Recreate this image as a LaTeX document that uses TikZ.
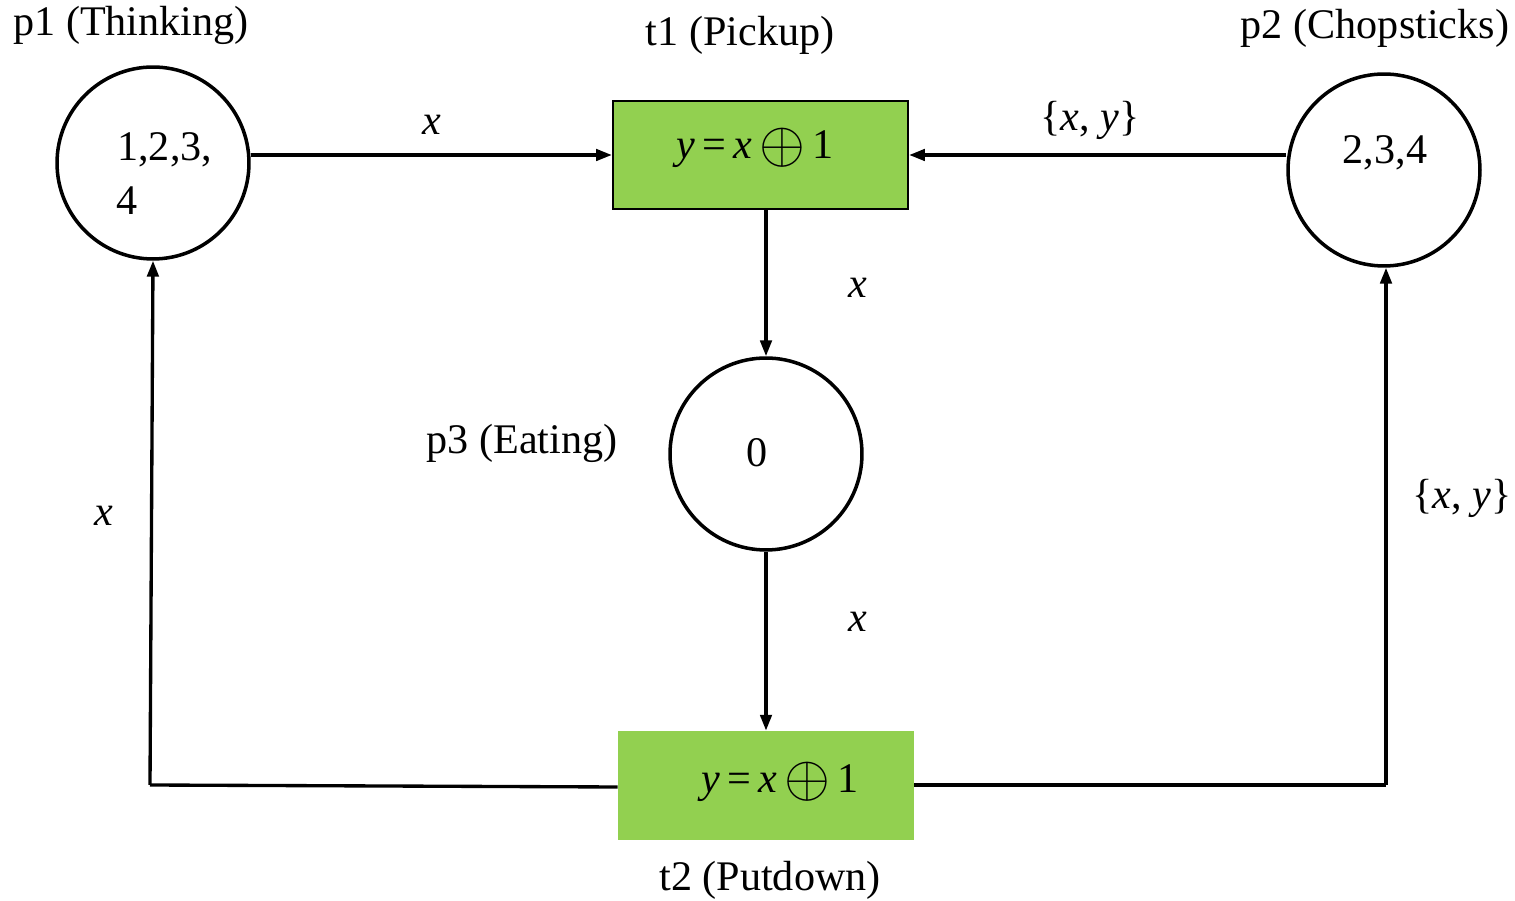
\documentclass[tikz,border=0pt]{standalone}
\usepackage{fontspec}
\usepackage{graphicx}
\setmainfont{Liberation Serif}[ItalicFont={Liberation Serif Italic}]
\usetikzlibrary{arrows.meta}
\definecolor{transgreen}{HTML}{92D050}
\newcommand{\guard}{\textit{y}\,=\,\textit{x}\,\raisebox{-0.09em}{\scalebox{1.35}{$\oplus$}}\,1}
\begin{document}
\begin{tikzpicture}[x=0.02cm,y=-0.02cm,
  every node/.style={font=\fontsize{24}{28}\selectfont},
  place/.style={circle,draw,line width=2pt,minimum size=3.84cm,inner sep=0pt},
  trans/.style={rectangle,fill=transgreen,minimum width=5.9cm,minimum height=2.16cm,inner sep=0pt},
  arc/.style={line width=1.9pt,-{Triangle[length=9pt,width=6.5pt]}},
  plain/.style={line width=1.9pt},
  lbl/.style={inner sep=0pt}]
\useasboundingbox (0,0) rectangle (1515,901);

% places
\node[place] (p1) at (153,163) {};
\node[place] (p2) at (1384,170) {};
\node[place] (p3) at (766,454) {};

% transitions
\node[trans,draw=black,line width=1.3pt] (t1) at (760.5,155) {};
\node[trans,minimum width=5.92cm,minimum height=2.18cm] (t2) at (766,785.5) {};

% tokens and guards
\node[lbl,anchor=west] at (117,150) {1,2,3,};
\node[lbl] at (127,201) {4};
\node[lbl] at (1385,153) {2,3,4};
\node[lbl] at (757,453) {0};
\node[lbl] at (755,148) {\guard};
\node[lbl] at (780,782) {\guard};

% names
\node[lbl] at (131,25) {p1 (Thinking)};
\node[lbl] at (740,35) {t1 (Pickup)};
\node[lbl] at (1375,28) {p2 (Chopsticks)};
\node[lbl] at (522,443) {p3 (Eating)};
\node[lbl] at (770,880) {t2 (Putdown)};

% arc inscriptions
\node[lbl] at (432,125) {\textit{x}};
\node[lbl] at (1090,120) {\{\textit{x}, \textit{y}\}};
\node[lbl] at (858,288) {\textit{x}};
\node[lbl] at (858,622) {\textit{x}};
\node[lbl] at (104,516) {\textit{x}};
\node[lbl] at (1462,498) {\{\textit{x}, \textit{y}\}};

% corners of the return arcs
\coordinate (c1) at (150,785);
\coordinate (c2) at (1386,785);

% arcs
\draw[arc] (p1.east |- 0,155) -- (t1.west |- 0,155);
\draw[arc] (p2.west |- 0,155) -- (t1.east |- 0,155);
\draw[arc] (t1.south -| 766,0) -- (p3.north);
\draw[arc] (p3.south) -- (t2.north -| 766,0);
\draw[plain] (t2.west |- 0,787) -- (c1);
\draw[arc] (c1) -- (p1.south);
\draw[plain] (t2.east |- 0,785) -- (c2);
\draw[arc] (c2) -- (p2.south -| c2);
\end{tikzpicture}
\end{document}
